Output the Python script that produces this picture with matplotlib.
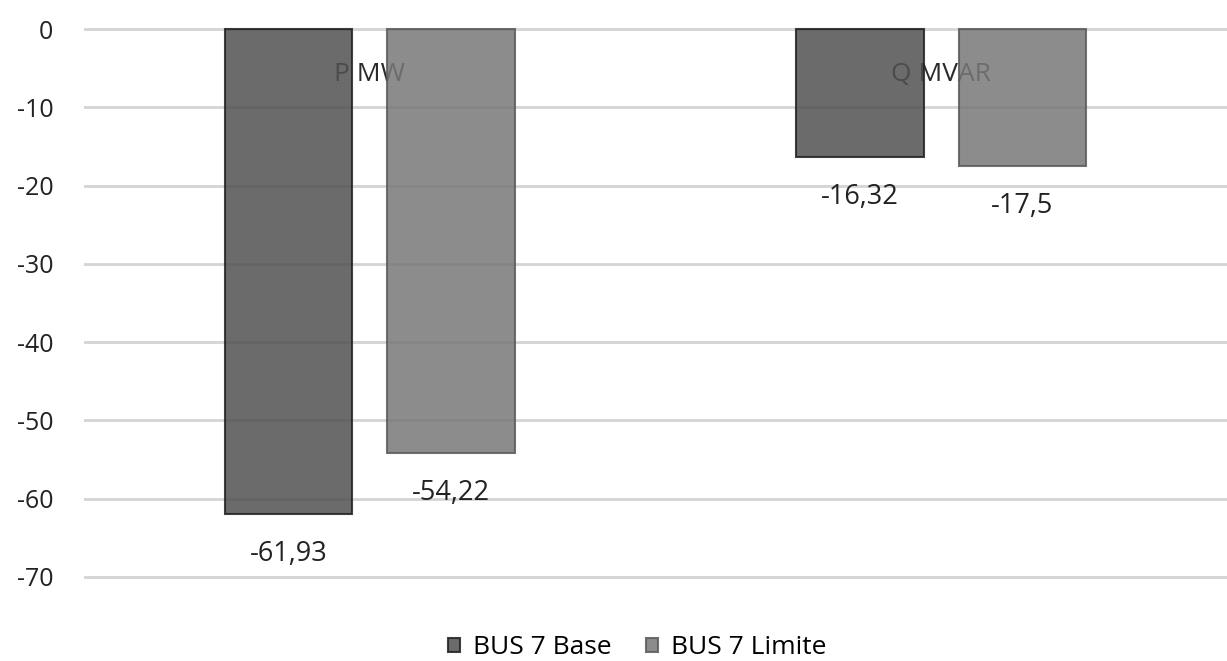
import matplotlib.pyplot as plt
import numpy as np

categories = ["P MW", "Q MVAR"]
series_names = ["BUS 7 Base", "BUS 7 Limite"]
base_vals = [-61.93, -16.32]
limite_vals = [-54.22, -17.5]

plt.rcParams["font.family"] = ["Open Sans", "DejaVu Sans"]
plt.rcParams["axes.unicode_minus"] = False

fig = plt.figure(figsize=(12.27, 6.61), dpi=100)
ax = fig.add_axes([84 / 1227, 1 - 584.8 / 661, 1 - 84 / 1227, (584.8 - 21.2) / 661])

x = np.arange(len(categories))
width = 0.223
offset = 0.142

# category names sit behind the semi-transparent bars, like the original
for xi, name in zip(x, categories):
    ax.text(xi, -5.8, name, ha="center", va="center", fontsize=19,
            color="#2a2a2a", zorder=1)

b1 = ax.bar(x - offset, base_vals, width, color="#515151", alpha=0.85,
            edgecolor="#202020", linewidth=1.5, label=series_names[0], zorder=2)
b2 = ax.bar(x + offset, limite_vals, width, color="#787878", alpha=0.85,
            edgecolor="#5a5a5a", linewidth=1.5, label=series_names[1], zorder=2)

for bars, vals in [(b1, base_vals), (b2, limite_vals)]:
    for bar, v in zip(bars, vals):
        txt = f"{v:g}".replace(".", ",")
        ax.annotate(txt, (bar.get_x() + bar.get_width() / 2, v),
                    xytext=(0, -40), textcoords="offset pixels",
                    ha="center", va="center", fontsize=19.5, color="#222222")

ax.set_xlim(-0.5, 1.5)
ax.set_ylim(-71, 1)
ax.set_yticks(np.arange(-70, 1, 10))
ax.set_xticks([])
ax.tick_params(axis="y", length=0, pad=22, labelsize=18, labelcolor="#222222")
ax.grid(axis="y", color="#d4d4d4", linewidth=2, zorder=0)
ax.set_axisbelow(True)
for s in ax.spines.values():
    s.set_visible(False)

fig.legend(handles=[b1, b2], labels=series_names, loc="center",
           bbox_to_anchor=(637 / 1227, 1 - 648 / 661), ncol=2, frameon=False,
           fontsize=19, handlelength=0.45, handleheight=0.45,
           handletextpad=0.5, columnspacing=1.3)

fig.savefig("out.png", dpi=100)
